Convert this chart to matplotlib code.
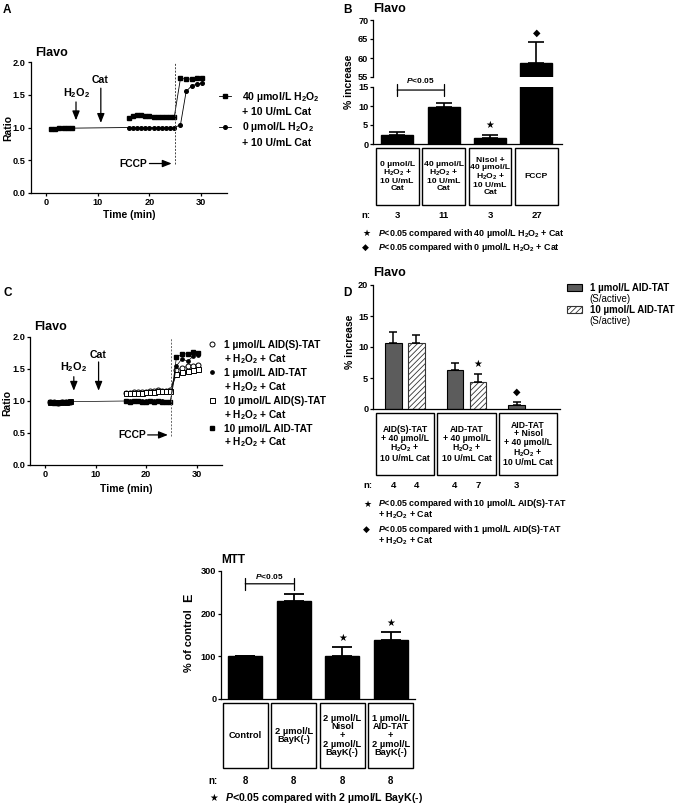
import numpy as np
import matplotlib
matplotlib.use('Agg')
import matplotlib.pyplot as plt
from matplotlib.patches import Rectangle, Patch
from matplotlib.lines import Line2D
from matplotlib.transforms import blended_transform_factory

plt.rcParams['font.family'] = ['Liberation Sans', 'DejaVu Sans']
plt.rcParams['font.weight'] = 'bold'
plt.rcParams['axes.labelweight'] = 'bold'
plt.rcParams['mathtext.fontset'] = 'custom'
plt.rcParams['mathtext.it'] = 'Liberation Sans:italic:bold'
plt.rcParams['mathtext.rm'] = 'Liberation Sans:bold'
plt.rcParams['mathtext.bf'] = 'Liberation Sans:bold'
plt.rcParams['mathtext.default'] = 'regular'
plt.rcParams['hatch.linewidth'] = 0.6
plt.rcParams['axes.linewidth'] = 0.9
plt.rcParams['xtick.major.width'] = 0.9
plt.rcParams['ytick.major.width'] = 0.9
plt.rcParams['xtick.major.size'] = 2.2
plt.rcParams['ytick.major.size'] = 2.2
plt.rcParams['xtick.major.pad'] = 1.5
plt.rcParams['ytick.major.pad'] = 1.2

# ---------------- data ----------------
# Panel A (Flavo ratio time course)
a_t_pre = [1.0, 1.8, 2.6, 3.4, 4.2, 5.0]
a_t_mid = [16.0, 16.8, 17.6, 18.4, 19.2, 20.0, 20.8, 21.6, 22.4, 23.2, 24.0, 24.8]
a_t_post = [26.0, 27.1, 28.2, 29.2, 30.2]
a_h2o2_pre = [0.98, 0.98, 0.99, 0.99, 0.99, 0.99]
a_h2o2_mid = [1.15, 1.18, 1.19, 1.19, 1.18, 1.17, 1.16, 1.16, 1.16, 1.16, 1.16, 1.16]
a_h2o2_post = [1.75, 1.74, 1.74, 1.75, 1.76]
a_ctrl_pre = [0.98, 0.98, 0.99, 0.99, 0.99, 0.99]
a_ctrl_mid = [1.0, 1.0, 1.0, 1.0, 1.0, 1.0, 1.0, 1.0, 1.0, 1.0, 1.0, 1.0]
a_ctrl_post = [1.04, 1.55, 1.64, 1.66, 1.68]
h2o2_time = 5.8
cat_time = 10.6
fccp_time = 25.0

# Panel B
b_labels = ["0 µmol/L\nH$_2$O$_2$ +\n10 U/mL\nCat",
            "40 µmol/L\nH$_2$O$_2$ +\n10 U/mL\nCat",
            "Nisol +\n40 µmol/L\nH$_2$O$_2$ +\n10 U/mL\nCat",
            "FCCP"]
b_values = [2.3, 9.8, 1.7, 58.8]
b_errors = [0.8, 1.1, 0.8, 5.4]
b_n = [3, 11, 3, 27]

# Panel C
c_t_pre = [1.0, 1.8, 2.6, 3.4, 4.2, 5.0]
c_t_mid = [16.0, 16.8, 17.6, 18.4, 19.2, 20.0, 20.8, 21.6, 22.4, 23.2, 24.0, 24.8]
c_t_post = [26.0, 27.1, 28.2, 29.3, 30.3]
c_s1_pre = [0.98, 0.98, 0.97, 0.98, 0.99, 0.99]
c_s1_mid = [1.13, 1.13, 1.14, 1.14, 1.14, 1.14, 1.15, 1.15, 1.17, 1.16, 1.16, 1.17]
c_s1_post = [1.48, 1.52, 1.54, 1.55, 1.57]
c_a1_pre = [0.98, 0.97, 0.97, 0.98, 0.99, 0.99]
c_a1_mid = [1.0, 1.0, 1.0, 1.0, 1.0, 1.0, 1.0, 1.0, 1.0, 1.0, 0.99, 0.99]
c_a1_post = [1.55, 1.66, 1.62, 1.70, 1.72]
c_s10_pre = [0.98, 0.98, 0.98, 0.99, 0.99, 1.0]
c_s10_mid = [1.12, 1.12, 1.13, 1.13, 1.13, 1.14, 1.14, 1.14, 1.15, 1.15, 1.15, 1.16]
c_s10_post = [1.42, 1.46, 1.47, 1.48, 1.50]
c_a10_pre = [0.98, 0.97, 0.97, 0.98, 0.98, 0.99]
c_a10_mid = [1.0, 0.99, 1.0, 1.0, 0.99, 0.99, 1.0, 0.99, 1.0, 0.99, 0.99, 0.98]
c_a10_post = [1.69, 1.73, 1.74, 1.76, 1.75]

# Panel D
d_labels = ["AID(S)-TAT\n+ 40 µmol/L\nH$_2$O$_2$ +\n10 U/mL Cat",
            "AID-TAT\n+ 40 µmol/L\nH$_2$O$_2$ +\n10 U/mL Cat",
            "AID-TAT\n+ Nisol\n+ 40 µmol/L\nH$_2$O$_2$ +\n10 U/mL Cat"]
d_1um = [10.6, 6.3, 0.6]
d_1um_err = [1.8, 1.1, 0.6]
d_1um_n = [4, 4, 3]
d_10um = [10.6, 4.3]
d_10um_err = [1.3, 1.4]
d_10um_n = [4, 7]

# Panel E
e_labels = ["Control", "2 µmol/L\nBayK(-)",
            "2 µmol/L\nNisol\n+\n2 µmol/L\nBayK(-)",
            "1 µmol/L\nAID-TAT\n+\n2 µmol/L\nBayK(-)"]
e_values = [100, 229, 101, 138]
e_errors = [0, 16, 20, 18]
e_n = [8, 8, 8, 8]

# ---------------- figure helpers ----------------
W, H = 678, 807
fig = plt.figure(figsize=(W / 100, H / 100), dpi=100)


def rect(l, t, r, b):
    return [l / W, 1 - b / H, (r - l) / W, (b - t) / H]


def fx(px):
    return px / W


def fy(py):
    return 1 - py / H


def ftext(x, y, s, **kw):
    kw.setdefault('va', 'center')
    return fig.text(fx(x), fy(y), s, **kw)


def style_ax(ax):
    ax.spines['top'].set_visible(False)
    ax.spines['right'].set_visible(False)
    ax.tick_params(labelsize=6.6)


def label_boxes(ax, xs, labels, top, bottom, width, fontsize, linespacing):
    tr = blended_transform_factory(ax.transData, fig.transFigure)
    for x, lab in zip(xs, labels):
        ax.add_patch(Rectangle((x - width / 2, fy(bottom)), width, (bottom - top) / H,
                               transform=tr, fill=False, lw=1.0, ec='k', clip_on=False))
        ax.text(x, fy((top + bottom) / 2), lab, transform=tr, ha='center', va='center',
                fontsize=fontsize, linespacing=linespacing, multialignment='center')


def n_row(ax, xs, ns, y, nx, fontsize):
    tr = blended_transform_factory(ax.transData, fig.transFigure)
    ftext(nx, y, 'n:', ha='center', fontsize=fontsize)
    for x, n in zip(xs, ns):
        ax.text(x, fy(y), str(n), transform=tr, ha='center', va='center', fontsize=fontsize)


def sig(ax, x, top, sym, size=7):
    ax.annotate(sym, xy=(x, top), xytext=(0, 7), textcoords='offset points',
                ha='center', va='center', fontsize=size)


def bracket(ax, x0, x1, y, ytext, fs=6):
    ax.annotate('', xy=(x0, y), xytext=(x1, y),
                arrowprops=dict(arrowstyle='|-|,widthA=0.45,widthB=0.45', lw=0.9,
                                shrinkA=0, shrinkB=0, color='k'))
    ax.text((x0 + x1) / 2, ytext, r'$\mathit{P}$<0.05', ha='center', va='center',
            fontsize=fs, clip_on=False)


def arrow(ax, x0, y0, x1, y1):
    ax.annotate('', xy=(x1, y1), xytext=(x0, y0),
                arrowprops=dict(arrowstyle='-|>,head_length=0.55,head_width=0.22',
                                lw=0.9, color='k', shrinkA=0, shrinkB=0))


def blank():
    return Line2D([], [], linestyle='none')


# ---------------- Panel A ----------------
axA = fig.add_axes(rect(30.5, 62, 227, 193))
style_ax(axA)
t_sq = a_t_pre + [np.nan] + a_t_mid + a_t_post
y_sq = a_h2o2_pre + [np.nan] + a_h2o2_mid + a_h2o2_post
t_ci = a_t_pre + a_t_mid + a_t_post
y_ci = a_ctrl_pre + a_ctrl_mid + a_ctrl_post
axA.plot(t_ci, y_ci, color='k', lw=0.6, marker='o', ms=2.6)
axA.plot(t_sq, y_sq, color='k', lw=0.6, marker='s', ms=3.0)
axA.set_xlim(-3, 35)
axA.set_ylim(0, 2.0)
axA.set_xticks([0, 10, 20, 30])
axA.set_yticks([0, 0.5, 1.0, 1.5, 2.0])
axA.vlines(fccp_time, 0.45, 2.0, colors='#444444', lw=0.7, linestyles=(0, (2, 1.5)))
arrow(axA, h2o2_time, 1.39, h2o2_time, 1.11)
arrow(axA, cat_time, 1.60, cat_time, 1.07)
axA.text(h2o2_time, 1.53, 'H$_2$O$_2$', ha='center', va='center', fontsize=7.8)
axA.text(cat_time - 0.2, 1.73, 'Cat', ha='center', va='center', fontsize=7.6)
axA.text(19.6, 0.45, 'FCCP', ha='right', va='center', fontsize=7.4)
arrow(axA, 20.0, 0.45, 24.3, 0.45)
legA = axA.legend([Line2D([], [], color='k', lw=0.6, marker='s', ms=3.0), blank(),
                   Line2D([], [], color='k', lw=0.6, marker='o', ms=2.6), blank()],
                  ['40 µmol/L H$_2$O$_2$', '+ 10 U/mL Cat', '0 µmol/L H$_2$O$_2$', '+ 10 U/mL Cat'],
                  loc='upper left', bbox_to_anchor=(fx(219), fy(90)), bbox_transform=fig.transFigure,
                  frameon=False, borderpad=0, borderaxespad=0, handlelength=1.15,
                  handletextpad=1.0, labelspacing=0.3, fontsize=7.6)
ftext(3, 10, 'A', fontsize=8.5)
ftext(35, 53, 'Flavo', fontsize=9)
ftext(8, 128, 'Ratio', rotation=90, ha='center', fontsize=7.5)
ftext(129, 215, 'Time (min)', ha='center', fontsize=7.5)

# ---------------- Panel C ----------------
axC = fig.add_axes(rect(29.8, 337, 222, 465))
style_ax(axC)
tC_gap = c_t_pre + [np.nan] + c_t_mid + c_t_post
tC_full = c_t_pre + c_t_mid + c_t_post
axC.plot(tC_gap, c_s1_pre + [np.nan] + c_s1_mid + c_s1_post, color='k', lw=0.5,
         marker='o', ms=3.6, mfc='white', mew=0.7)
axC.plot(tC_gap, c_s10_pre + [np.nan] + c_s10_mid + c_s10_post, color='k', lw=0.5,
         marker='s', ms=3.6, mfc='white', mew=0.7)
axC.plot(tC_gap, c_a10_pre + [np.nan] + c_a10_mid + c_a10_post, color='k', lw=0.5,
         marker='s', ms=3.0)
axC.plot(tC_full, c_a1_pre + c_a1_mid + c_a1_post, color='k', lw=0.5,
         marker='o', ms=2.4)
axC.set_xlim(-3, 35)
axC.set_ylim(0, 2.0)
axC.set_xticks([0, 10, 20, 30])
axC.set_yticks([0, 0.5, 1.0, 1.5, 2.0])
axC.vlines(fccp_time, 0.45, 1.98, colors='#666666', lw=0.7, linestyles=(0, (2, 1.5)))
arrow(axC, 5.7, 1.38, 5.7, 1.16)
arrow(axC, 10.6, 1.61, 10.6, 1.16)
axC.text(5.6, 1.53, 'H$_2$O$_2$', ha='center', va='center', fontsize=7.8)
axC.text(10.4, 1.72, 'Cat', ha='center', va='center', fontsize=7.6)
axC.text(20.0, 0.47, 'FCCP', ha='right', va='center', fontsize=7.4)
arrow(axC, 20.3, 0.47, 24.3, 0.47)
legC = axC.legend([Line2D([], [], ls='none', marker='o', ms=3.6, mfc='white', mec='k', mew=0.7), blank(),
                   Line2D([], [], ls='none', marker='o', ms=2.4, color='k'), blank(),
                   Line2D([], [], ls='none', marker='s', ms=3.6, mfc='white', mec='k', mew=0.7), blank(),
                   Line2D([], [], ls='none', marker='s', ms=3.0, color='k'), blank()],
                  ['1 µmol/L AID(S)-TAT', '+ H$_2$O$_2$ + Cat',
                   '1 µmol/L AID-TAT', '+ H$_2$O$_2$ + Cat',
                   '10 µmol/L AID(S)-TAT', '+ H$_2$O$_2$ + Cat',
                   '10 µmol/L AID-TAT', '+ H$_2$O$_2$ + Cat'],
                  loc='upper left', bbox_to_anchor=(fx(208), fy(340)), bbox_transform=fig.transFigure,
                  frameon=False, borderpad=0, borderaxespad=0, handlelength=0.8,
                  handletextpad=0.75, labelspacing=0.2, fontsize=7.3)
ftext(3, 293, 'C', fontsize=8.5)
ftext(34, 327, 'Flavo', fontsize=9)
ftext(7, 403, 'Ratio', rotation=90, ha='center', fontsize=7.5)
ftext(126, 489, 'Time (min)', ha='center', fontsize=7.5)

# ---------------- Panel B ----------------
xb = np.arange(len(b_values))
axB_top = fig.add_axes(rect(373, 20, 562, 77))
axB_bot = fig.add_axes(rect(373, 87, 562, 144))
for ax in (axB_top, axB_bot):
    style_ax(ax)
    ax.bar(xb, b_values, width=0.69, color='k', edgecolor='k')
    ax.errorbar(xb, b_values, yerr=[np.zeros(len(b_errors)), b_errors], fmt='none',
                ecolor='k', elinewidth=1.2, capsize=6, capthick=1.2)
    ax.set_xlim(-0.52, 3.55)
    ax.tick_params(axis='x', bottom=False, labelbottom=False)
axB_top.spines['bottom'].set_visible(False)
axB_top.set_ylim(55, 70)
axB_top.set_yticks([55, 60, 65, 70])
axB_bot.set_ylim(0, 15)
axB_bot.set_yticks([0, 5, 10, 15])
sig(axB_bot, 2, b_values[2] + b_errors[2], '★')
sig(axB_top, 3, b_values[3] + b_errors[3], '◆')
bracket(axB_bot, 0, 1, 14.2, 16.7)
label_boxes(axB_bot, xb, b_labels, 148, 205, 0.925, 6.1, 1.0)
n_row(axB_bot, xb, b_n, 215, 366, 6.8)
ftext(343, 10, 'B', fontsize=8.5)
ftext(373, 9, 'Flavo', fontsize=9)
ftext(349, 82, '% increase', rotation=90, ha='center', fontsize=7.5)
ftext(362, 233, '★', fontsize=6.5)
ftext(378, 233, r'$\mathit{P}$<0.05 compared with 40 µmol/L H$_2$O$_2$ + Cat', fontsize=6.4)
ftext(362, 247, '◆', fontsize=6.5)
ftext(378, 247, r'$\mathit{P}$<0.05 compared with 0 µmol/L H$_2$O$_2$ + Cat', fontsize=6.4)

# ---------------- Panel D ----------------
axD = fig.add_axes(rect(373, 285, 560, 409))
style_ax(axD)
xd = np.arange(len(d_labels))
off = 0.187
bw = 0.276
x1 = xd[:len(d_1um)] - off
x10 = xd[:len(d_10um)] + off
axD.bar(x1, d_1um, width=bw, color='#5c5c5c', edgecolor='k', lw=0.8)
axD.bar(x10, d_10um, width=bw, color='white', edgecolor='#333333', lw=0.8, hatch='//////')
axD.errorbar(x1, d_1um, yerr=[np.zeros(len(d_1um)), d_1um_err], fmt='none',
             ecolor='k', elinewidth=1.1, capsize=3, capthick=1.1)
axD.errorbar(x10, d_10um, yerr=[np.zeros(len(d_10um)), d_10um_err], fmt='none',
             ecolor='k', elinewidth=1.1, capsize=3, capthick=1.1)
axD.set_xlim(-0.52, 2.52)
axD.set_ylim(0, 20)
axD.set_yticks([0, 5, 10, 15, 20])
axD.tick_params(axis='x', bottom=False, labelbottom=False)
sig(axD, x10[1], d_10um[1] + d_10um_err[1], '★')
sig(axD, x1[2], d_1um[2] + d_1um_err[2], '◆')
label_boxes(axD, xd, d_labels, 413, 475, 0.95, 6.2, 0.98)
n_row(axD, np.concatenate([x1, x10]), d_1um_n + d_10um_n, 485, 368, 6.8)
legD = axD.legend([Patch(facecolor='#5c5c5c', edgecolor='k', lw=0.8), blank(),
                   Patch(facecolor='white', edgecolor='#333333', lw=0.8, hatch='//////'), blank()],
                  ['1 µmol/L AID-TAT', '(S/active)', '10 µmol/L AID-TAT', '(S/active)'],
                  loc='upper left', bbox_to_anchor=(fx(567), fy(283)), bbox_transform=fig.transFigure,
                  frameon=False, borderpad=0, borderaxespad=0, handlelength=1.55,
                  handleheight=0.6, handletextpad=0.8, labelspacing=0.1, fontsize=7)
for i in (1, 3):
    legD.get_texts()[i].set_fontweight('normal')
ftext(343, 293, 'D', fontsize=8.5)
ftext(373, 273, 'Flavo', fontsize=9)
ftext(350, 342, '% increase', rotation=90, ha='center', fontsize=7.5)
ftext(363, 504, '★', fontsize=6.5)
ftext(378, 504, r'$\mathit{P}$<0.05 compared with 10 µmol/L AID(S)-TAT', fontsize=6.4)
ftext(378, 515, '+ H$_2$O$_2$ + Cat', fontsize=6.4)
ftext(363, 529, '◆', fontsize=6.5)
ftext(378, 529, r'$\mathit{P}$<0.05 compared with 1 µmol/L AID(S)-TAT', fontsize=6.4)
ftext(378, 541, '+ H$_2$O$_2$ + Cat', fontsize=6.4)

# ---------------- Panel E ----------------
axE = fig.add_axes(rect(221, 571, 415, 699))
style_ax(axE)
xe = np.arange(len(e_values))
axE.bar(xe, e_values, width=0.7, color='k', edgecolor='k')
axE.errorbar(xe, e_values, yerr=[np.zeros(len(e_errors)), e_errors], fmt='none',
             ecolor='k', elinewidth=1.3, capsize=7, capthick=1.3)
axE.set_xlim(-0.5, 3.5)
axE.set_ylim(0, 300)
axE.set_yticks([0, 100, 200, 300])
axE.tick_params(axis='x', bottom=False, labelbottom=False)
sig(axE, 2, e_values[2] + e_errors[2], '★')
sig(axE, 3, e_values[3] + e_errors[3], '★')
bracket(axE, 0, 1, 270, 287)
label_boxes(axE, xe, e_labels, 703, 768, 0.92, 6.7, 0.95)
n_row(axE, xe, e_n, 781, 213, 7.0)
ftext(221, 560, 'MTT', fontsize=8.5)
ftext(189, 641, '% of control', rotation=90, ha='center', fontsize=7.8)
ftext(189, 598, 'E', rotation=90, ha='center', fontsize=9)
ftext(209, 798, '★', fontsize=7)
ftext(225, 798, r'$\mathit{P}$<0.05 compared with 2 µmol/L BayK(-)', fontsize=7.6)

fig.savefig('out.png', dpi=100)
